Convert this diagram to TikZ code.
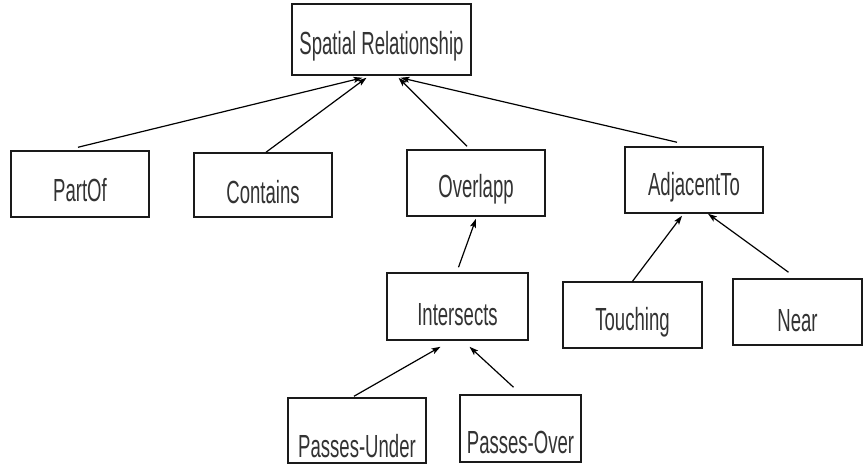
\documentclass[tikz,border=0pt]{standalone}
\usepackage{fontspec}
\setmainfont[FakeStretch=0.58]{Liberation Sans}
\usetikzlibrary{arrows.meta}
\definecolor{txt}{HTML}{333333}
\definecolor{edge}{HTML}{1A1A1A}
\tikzset{
  box/.style={draw=edge, line width=1.5pt, rectangle, inner sep=0pt,
    minimum width=138pt, minimum height=66pt, text=txt, text depth=0pt,
    font=\fontsize{32}{36}\selectfont},
  link/.style={draw=black, line width=1.2pt, -{Stealth[length=9pt,width=6pt,inset=2pt]}}
}
\begin{document}
\begin{tikzpicture}[x=1pt,y=-1pt]
\useasboundingbox (0,0) rectangle (865,464);
\node[box, minimum width=179pt, minimum height=71pt, text height=29pt] (sr) at (381.5,39.5) {Spatial Relationship};
\node[box, text height=34pt] (partof) at (80,184) {PartOf};
\node[box, minimum height=64pt, text height=36pt] (contains) at (263,185) {Contains};
\node[box, text height=28pt] (overlapp) at (476,183) {Overlapp};
\node[box, text height=30pt] (adjacent) at (694,180) {AdjacentTo};
\node[box, minimum width=141pt, minimum height=67pt, text height=38pt] (intersects) at (457.5,306.5) {Intersects};
\node[box, minimum width=139pt, text height=30pt] (touching) at (632.5,315) {Touching};
\node[box, minimum width=129pt, text height=38pt] (near) at (797.5,312) {Near};
\node[box, minimum height=65pt, text height=54pt] (passunder) at (357,430.5) {Passes-Under};
\node[box, minimum width=121pt, minimum height=67pt, text height=50pt] (passover) at (520.5,428.5) {Passes-Over};

\draw[link] ([xshift=-2pt,yshift=3pt]partof.north) -- ([xshift=-19pt,yshift=-2pt]sr.south);
\draw[link] ([xshift=3pt]contains.north) -- ([xshift=-15pt,yshift=-2pt]sr.south);
\draw[link] ([xshift=-9pt,yshift=3pt]overlapp.north) -- ([xshift=17pt,yshift=-2pt]sr.south);
\draw[link] ([xshift=-17pt,yshift=4pt]adjacent.north) -- ([xshift=19pt,yshift=-2pt]sr.south);
\draw[link] ([xshift=1pt,yshift=5pt]intersects.north) -- ([yshift=-2pt]overlapp.south);
\draw[link] ([xshift=-3pt,yshift=1pt]passunder.north) -- ([xshift=-17pt,yshift=-6pt]intersects.south);
\draw[link] ([xshift=-7pt,yshift=7pt]passover.north) -- ([xshift=12pt,yshift=-6pt]intersects.south);
\draw[link] (touching.north) -- ([xshift=-12pt,yshift=-2pt]adjacent.south);
\draw[link] ([xshift=-9pt,yshift=6pt]near.north) -- ([xshift=14pt]adjacent.south);
\end{tikzpicture}
\end{document}
